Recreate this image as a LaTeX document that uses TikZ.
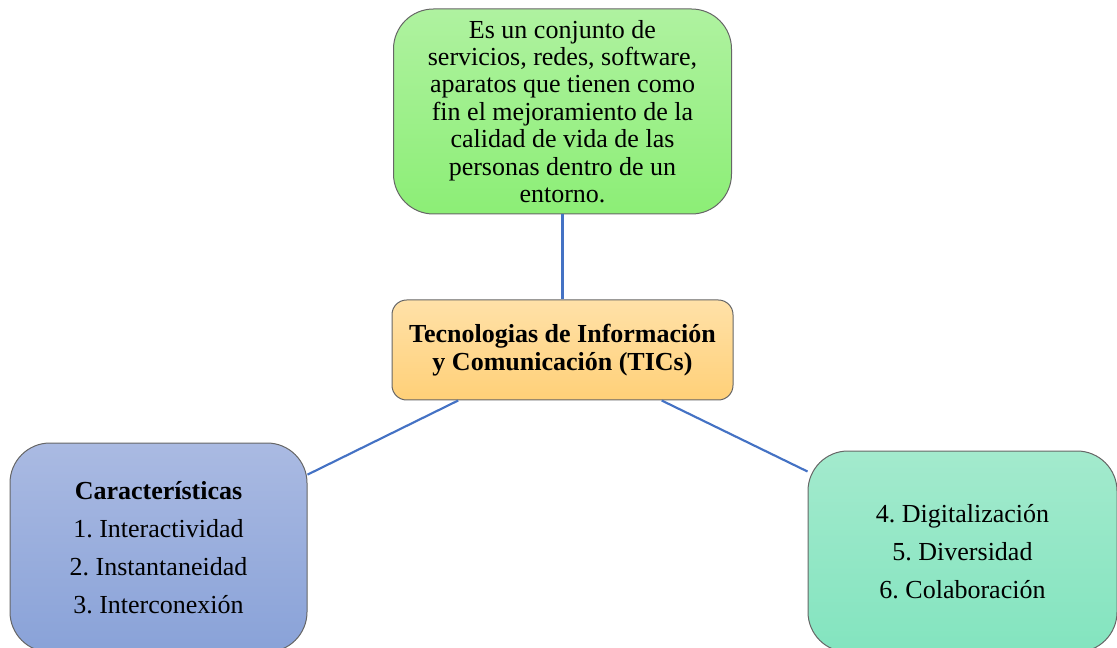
\documentclass[tikz,border=0pt]{standalone}
\usepackage{fontspec}
\setmainfont{Liberation Serif}
\usetikzlibrary{calc}
\definecolor{linkblue}{HTML}{4472C4}
\definecolor{verdeA}{HTML}{AFF2A0}
\definecolor{verdeB}{HTML}{8CEE76}
\definecolor{naranjaA}{HTML}{FFE1A8}
\definecolor{naranjaB}{HTML}{FFD078}
\definecolor{azulA}{HTML}{AABAE2}
\definecolor{azulB}{HTML}{89A2D8}
\definecolor{turqA}{HTML}{A3EACD}
\definecolor{turqB}{HTML}{83E4BF}
\tikzset{
  caja/.style={rectangle, rounded corners=30pt, draw=black!60, line width=0.75pt,
    inner sep=0pt, align=center, font=\fontsize{19.5}{20.5}\selectfont\frenchspacing},
  lista/.style={caja, font=\fontsize{19.5}{28.5}\selectfont\frenchspacing},
  enlace/.style={draw=linkblue, line width=1.6pt},
}

\begin{document}
\begin{tikzpicture}[x=0.75pt,y=-0.75pt]
\useasboundingbox (0,0) rectangle (1117,648);
% Definicion
\node[caja, top color=verdeA, bottom color=verdeB, minimum width=253.5pt, minimum height=153.75pt] (def) at (562.5,111.5)
{Es un conjunto de\\servicios, redes, software,\\aparatos que tienen como\\fin el mejoramiento de la\\calidad de vida de las\\personas dentro de un\\entorno.};
% Concepto central
\node[caja, rounded corners=11pt, top color=naranjaA, bottom color=naranjaB, minimum width=255.75pt, minimum height=75pt] (tic) at (562.5,350)
{\textbf{Tecnologias de Información}\\\textbf{y Comunicación (TICs)}};
% Caracteristicas
\node[lista, top color=azulA, bottom color=azulB, minimum width=222.75pt, minimum height=156.75pt] (car) at (158.5,547.5)
{\textbf{Características}\\1. Interactividad\\2. Instantaneidad\\3. Interconexión};
\node[lista, top color=turqA, bottom color=turqB, minimum width=231.75pt, minimum height=150.75pt] (mas) at (962.5,551.5)
{4. Digitalización\\5. Diversidad\\6. Colaboración};
% Conectores
\draw[enlace] (def.south) -- (tic.north);
\draw[enlace] ($(tic.south west)!0.195!(tic.south east)$) -- ($(car.north east)!0.153!(car.south east)$);
\draw[enlace] ($(tic.south west)!0.79!(tic.south east)$) -- ($(mas.north west)!0.104!(mas.south west)$);
\end{tikzpicture}
\end{document}
